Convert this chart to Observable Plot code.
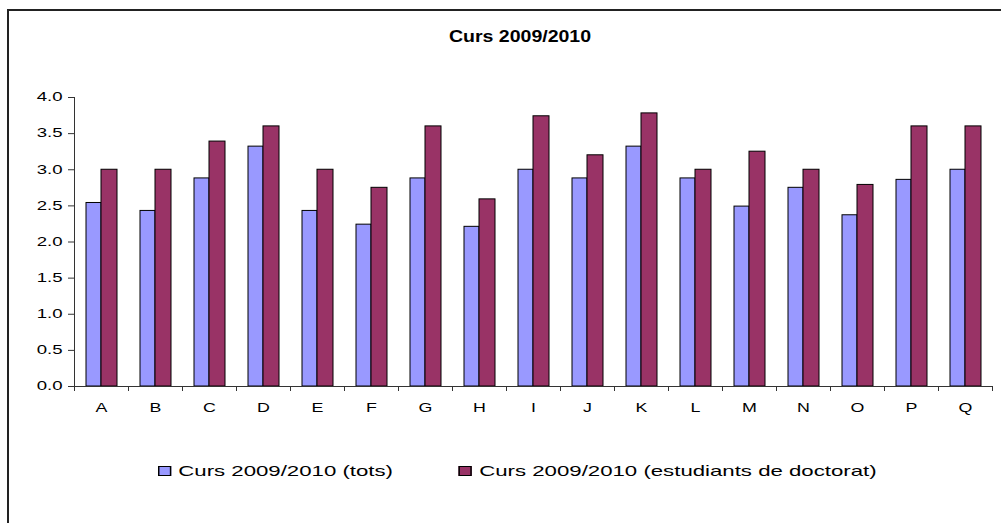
<!DOCTYPE html>
<html>
<head>
<meta charset="utf-8">
<script src="https://cdn.jsdelivr.net/npm/d3@7"></script>
<script src="https://cdn.jsdelivr.net/npm/@observablehq/plot@0.6"></script>
<style>
  html, body { margin: 0; padding: 0; background: #fff; overflow: hidden; }
  #wrap { position: relative; width: 1001px; height: 523px; font-family: "Liberation Sans", Arial, sans-serif; color: #000; }
  #chart { position: absolute; left: 0; top: 0; }
  #frame { position: absolute; left: 7px; top: 9px; width: 1100px; height: 700px; border: 2px solid #222; box-sizing: border-box; pointer-events: none; z-index: 2; }
  #title { position: absolute; top: 28px; left: 519.5px; font-size: 16px; font-weight: bold; line-height: 18px; white-space: nowrap; transform: translateX(-50%) scaleX(1.22); transform-origin: center; }
  #legend { position: absolute; left: 158px; top: 462px; display: flex; align-items: flex-start; font-size: 15px; line-height: 17px; white-space: nowrap; transform: scaleX(1.48); transform-origin: left top; }
  .sw { width: 9px; height: 10px; box-sizing: border-box; border: 1px solid #000; margin-top: 3.8px; margin-right: 4.7px; }
  .gap { width: 44.6px; }
</style>
</head>
<body>
<div id="wrap">
  <div id="chart"></div>
  <div id="title"></div>
  <div id="legend"></div>
  <div id="frame"></div>
</div>
<script>
const title = "Curs 2009/2010";
const categories = ["A","B","C","D","E","F","G","H","I","J","K","L","M","N","O","P","Q"];
const seriesNames = ["Curs 2009/2010 (tots)", "Curs 2009/2010 (estudiants de doctorat)"];
const seriesColors = ["#9999FF", "#993366"];
const tots     = [2.54, 2.43, 2.88, 3.32, 2.43, 2.24, 2.88, 2.21, 3.00, 2.88, 3.32, 2.88, 2.49, 2.75, 2.37, 2.86, 3.00];
const doctorat = [3.00, 3.00, 3.39, 3.60, 3.00, 2.75, 3.60, 2.59, 3.74, 3.20, 3.78, 3.00, 3.25, 3.00, 2.79, 3.60, 3.60];
const yTicks = [0, 0.5, 1.0, 1.5, 2.0, 2.5, 3.0, 3.5, 4.0];

const rows = categories.map((c, i) => ({cat: c, tots: tots[i], doc: doctorat[i]}));
const half = 27;
const axisColor = "#333";

const chart = Plot.plot({
  width: 1001,
  height: 430,
  marginLeft: 74,
  marginRight: 9,
  marginTop: 97,
  marginBottom: 44,
  style: {background: "transparent", fontFamily: "'Liberation Sans', Arial, sans-serif", color: "#000", overflow: "visible"},
  x: {type: "band", domain: categories, padding: 0, axis: null, label: null},
  y: {domain: [0, 4], axis: null, label: null},
  marks: [
    Plot.barY(rows, {x: "cat", y: "tots", fill: seriesColors[0], stroke: "#000", strokeWidth: 1, insetLeft: 12, insetRight: 27}),
    Plot.barY(rows, {x: "cat", y: "doc", fill: seriesColors[1], stroke: "#000", strokeWidth: 1, insetLeft: 27, insetRight: 11}),
    Plot.ruleY([0], {stroke: axisColor}),
    Plot.ruleX(["A"], {x: d => d, dx: -half, y1: 0, y2: 4, stroke: axisColor}),
    Plot.ruleX(categories, {x: d => d, dx: -half, y1: 0, y2: 0, insetTop: 0, insetBottom: -5, stroke: axisColor}),
    Plot.ruleX(["Q"], {x: d => d, dx: half, y1: 0, y2: 0, insetTop: 0, insetBottom: -5, stroke: axisColor}),
    Plot.axisY({ticks: yTicks, tickSize: 6, tickPadding: 6, tickFormat: d3.format(".1f"), fontSize: 12, stroke: axisColor, strokeOpacity: 1, label: null}),
    Plot.axisX({tickSize: 0, tickPadding: 16, fontSize: 13, label: null})
  ]
});
document.getElementById("chart").appendChild(chart);

// Horizontal stretch of tick labels (as in the original picture)
function stretch(selector, s) {
  chart.querySelectorAll(selector).forEach(t => {
    let tr = t.getAttribute("transform");
    if (!tr) {
      const x = t.getAttribute("x") || 0, y = t.getAttribute("y") || 0;
      t.removeAttribute("x"); t.removeAttribute("y");
      tr = `translate(${x},${y})`;
    }
    t.setAttribute("transform", `${tr} scale(${s},1)`);
  });
}
stretch('g[aria-label="y-axis tick label"] text', 1.55);
stretch('g[aria-label="x-axis tick label"] text', 1.37);

document.getElementById("title").textContent = title;

const legend = document.getElementById("legend");
seriesNames.forEach((name, i) => {
  if (i > 0) { const g = document.createElement("div"); g.className = "gap"; legend.appendChild(g); }
  const sw = document.createElement("div");
  sw.className = "sw";
  sw.style.background = seriesColors[i];
  legend.appendChild(sw);
  const tx = document.createElement("div");
  tx.textContent = name;
  legend.appendChild(tx);
});
</script>
</body>
</html>
